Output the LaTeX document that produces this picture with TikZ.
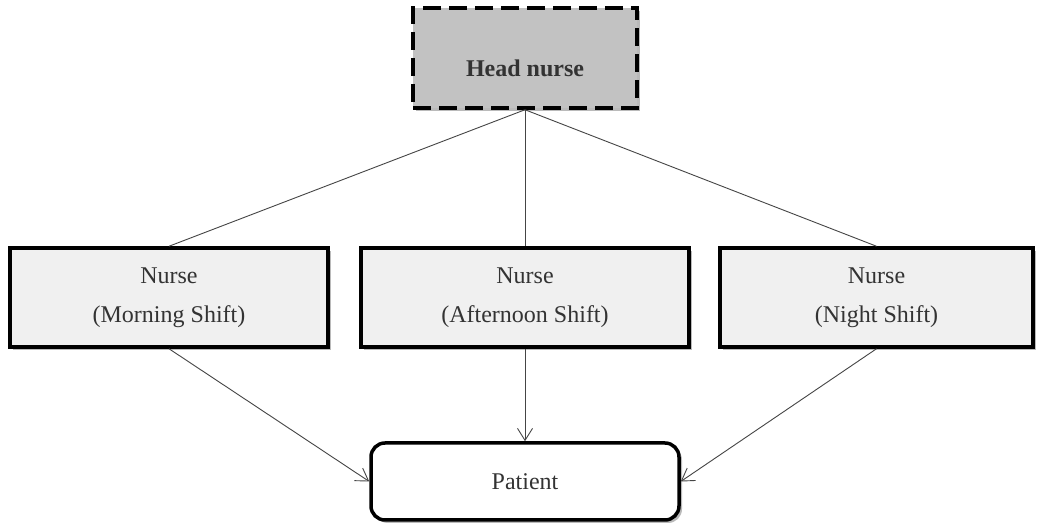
\documentclass[tikz,border=0pt]{standalone}
\usepackage{fontspec}
\setmainfont{Liberation Serif}
\usetikzlibrary{arrows.meta,shadows}
\definecolor{txt}{HTML}{333333}
\definecolor{conn}{HTML}{454545}
\definecolor{headfill}{HTML}{C2C2C2}
\definecolor{nursefill}{HTML}{F0F0F0}
\tikzset{
  basebox/.style={draw=black, line width=3.5pt, text=txt, align=center,
    inner sep=0pt, font=\fontsize{24}{39}\selectfont,
    drop shadow={shadow xshift=3pt, shadow yshift=-3pt, fill=black!45, opacity=0.6}},
  headbox/.style={basebox, fill=headfill, dash pattern=on 18pt off 8pt,
    minimum width=224pt, minimum height=100pt, font=\fontsize{24}{39}\selectfont\bfseries},
  nursebox/.style={basebox, fill=nursefill, minimum height=99pt},
  patbox/.style={basebox, fill=white, rounded corners=14pt,
    minimum width=308pt, minimum height=77pt},
  link/.style={draw=conn, line width=0.9pt},
  arrowlink/.style={link, -{Straight Barb[length=12pt,width=15pt,line width=0.9pt]}}
}
\begin{document}
\begin{tikzpicture}[x=1pt,y=-1pt]
\useasboundingbox[fill=white] (0,0) rectangle (1037,526);
\node[headbox] (head) at (525,58) {\raisebox{-19pt}[0pt][0pt]{Head nurse}};
\node[nursebox, minimum width=318pt] (n1) at (169,297.5) {Nurse\\(Morning Shift)};
\node[nursebox, minimum width=328pt] (n2) at (525,297.5) {Nurse\\(Afternoon Shift)};
\node[nursebox, minimum width=313pt] (n3) at (876.5,297.5) {Nurse\\(Night Shift)};
\node[patbox] (pat) at (525,481.5) {Patient};
\draw[link] (head.south) -- (n1.north);
\draw[link] (head.south) -- (n2.north);
\draw[link] (head.south) -- (n3.north);
\draw[arrowlink] (n1.south) -- (pat.west);
\draw[arrowlink] (n2.south) -- (pat.north);
\draw[arrowlink] (n3.south) -- (pat.east);
\end{tikzpicture}
\end{document}
